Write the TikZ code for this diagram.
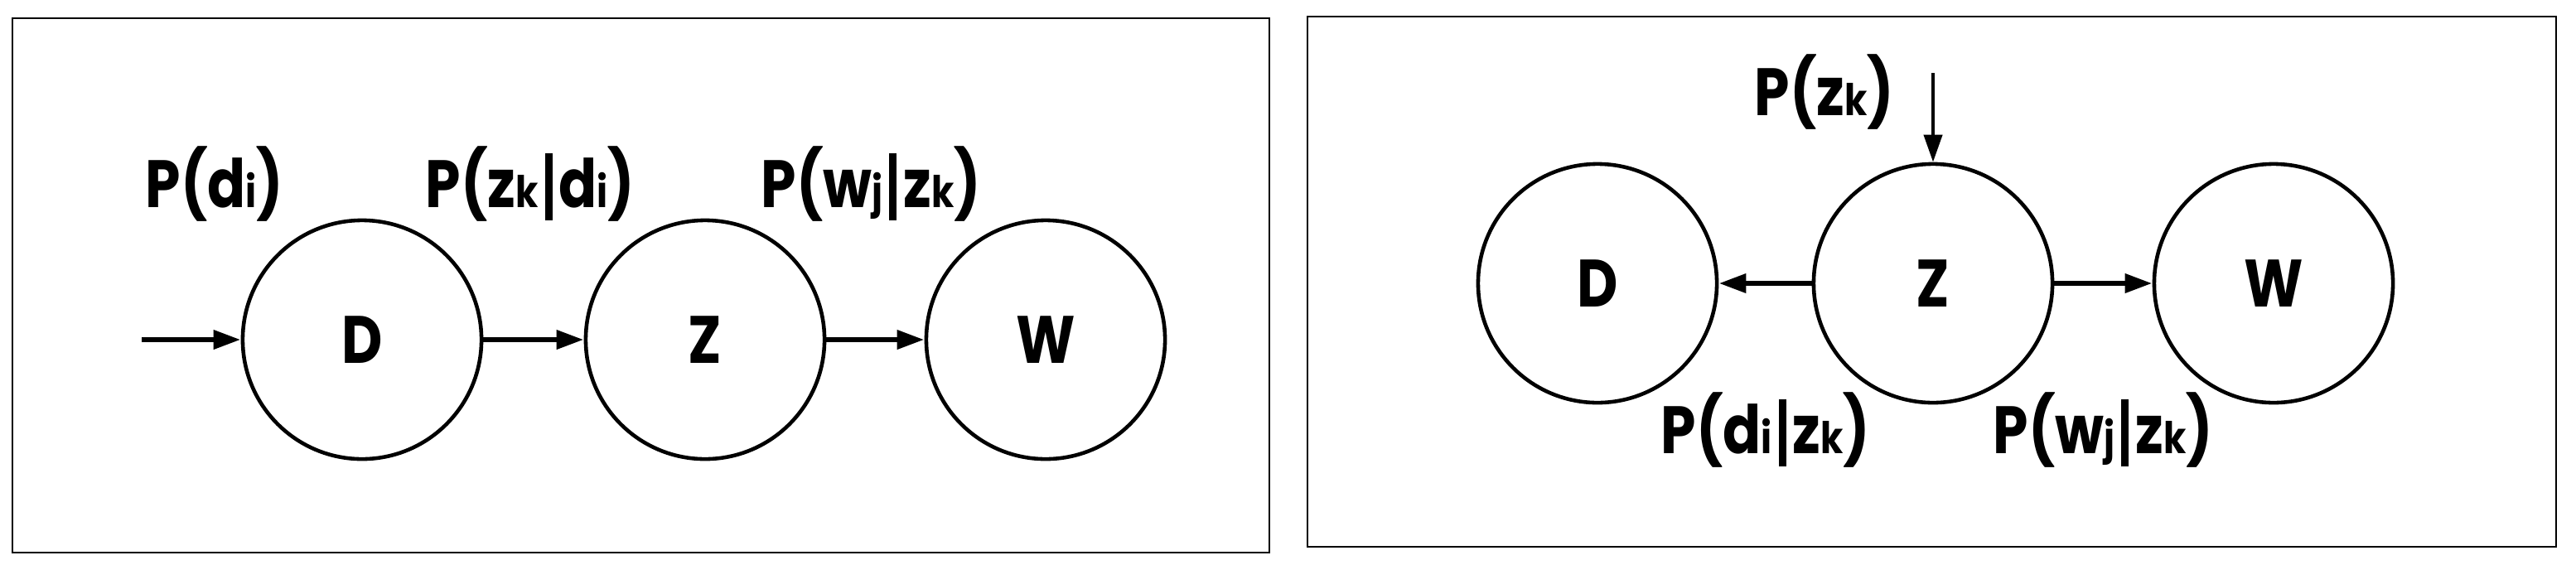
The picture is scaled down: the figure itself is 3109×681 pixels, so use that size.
\documentclass[tikz,border=0pt]{standalone}
\usepackage{fontspec}
\setmainfont{Poppins}[FakeStretch=0.84]
\usetikzlibrary{arrows.meta}

\tikzset{
  var/.style={circle, draw, line width=1.3pt, minimum size=2.88cm, inner sep=0pt,
    font=\fontsize{23}{23}\selectfont\bfseries},
  prob/.style={anchor=base west, inner sep=0pt, font=\fontsize{23}{23}\selectfont\bfseries},
  flow/.style={line width=1.9pt, -{Triangle[length=0.33cm,width=0.22cm]}},
  frame/.style={line width=0.45pt}
}
\newcommand{\idx}[1]{{\fontsize{15}{15}\selectfont #1}}
\newcommand{\given}{\hspace{0.1em}\rule[-0.2em]{0.11em}{1em}\hspace{0.1em}}

\begin{document}
\begin{tikzpicture}[x=0.01cm, y=-0.01cm]
        \useasboundingbox (0, 0) rectangle (3109, 681);
        \draw[frame] (15, 22) rectangle (1532, 667);
        \draw[frame] (1578, 20) rectangle (3085, 660);

        % asymmetric model
        \node[var] (dl) at (437, 410) {D};
        \node[var] (zl) at (851, 410) {Z};
        \node[var] (wl) at (1262, 410) {W};
        \coordinate (inl) at (171, 410);

        \draw[flow] (inl) -- (dl);
        \draw[flow] (dl) -- (zl);
        \draw[flow] (zl) -- (wl);

        \node[prob] at (175, 250) {P(d\idx{i})};
        \node[prob] at (513, 250) {P(z\idx{k}\given d\idx{i})};
        \node[prob] at (918, 250) {P(w\idx{j}\given z\idx{k})};

        % symmetric model
        \node[var] (dr) at (1928, 342) {D};
        \node[var] (zr) at (2333, 342) {Z};
        \node[var] (wr) at (2744, 342) {W};
        \coordinate (inr) at (2333, 88);

        \draw[flow, line width=1.2pt] (inr) -- (zr);
        \draw[flow] (zr) -- (dr);
        \draw[flow] (zr) -- (wr);

        \node[prob] at (2117, 139) {P(z\idx{k})};
        \node[prob] at (2004, 547) {P(d\idx{i}\given z\idx{k})};
        \node[prob] at (2405, 547) {P(w\idx{j}\given z\idx{k})};

    \end{tikzpicture}
\end{document}
